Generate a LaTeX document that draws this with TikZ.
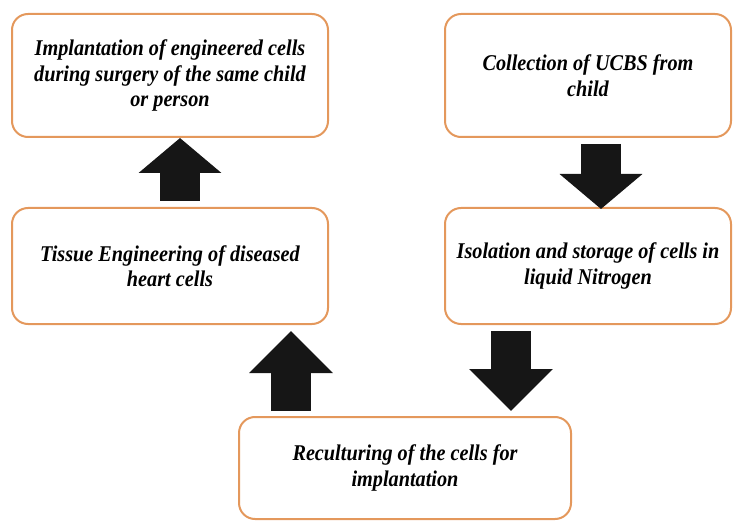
\documentclass[tikz,border=0pt]{standalone}
\usepackage{fontspec}
\setmainfont{Liberation Serif}
\newfontfamily\boxfont{Liberation Serif}[FakeStretch=0.9]
\usepackage{xcolor}
\usetikzlibrary{arrows.meta}
\usetikzlibrary{calc}
\definecolor{boxorange}{RGB}{228,152,92}
\definecolor{arrowblack}{RGB}{22,22,22}
\tikzset{
stepbox/.style={draw=boxorange,line width=2pt,rounded corners=16pt,fill=white,
align=center,inner sep=0pt,font=\boxfont\fontsize{22.5}{25.5}\selectfont\bfseries\itshape},
bigarrow/.style={draw=arrowblack,line width=40pt,-{Triangle[length=#1,width=81pt]}}
}
\begin{document}
\begin{tikzpicture}[x=1pt,y=1pt]

\useasboundingbox (0,0) rectangle (733,-521);

\node[stepbox,minimum width=316pt,minimum height=123pt] (implant) at (170,-75.5)
{Implantation of engineered cells\\during surgery of the same child\\or person};
\node[stepbox,minimum width=286pt,minimum height=123pt] (collect) at (588,-75.5)
{Collection of UCBS from\\child};
\node[stepbox,minimum width=316pt,minimum height=116pt] (tissue) at (170,-266)
{Tissue Engineering of diseased\\heart cells};
\node[stepbox,minimum width=286pt,minimum height=116pt] (isolate) at (588,-266)
{Isolation and storage of cells in\\liquid Nitrogen};
\node[stepbox,minimum width=332pt,minimum height=102pt] (reculture) at (405,-468)
{Reculturing of the cells for\\implantation};

\coordinate (up1) at ([xshift=10pt,yshift=6pt]tissue.north);
\coordinate (down1) at ([xshift=13pt,yshift=-6pt]collect.south);
\coordinate (up2) at ([xshift=-114pt,yshift=5pt]reculture.north);
\coordinate (down2) at ([xshift=-77pt,yshift=-6pt]isolate.south);

\draw[bigarrow=35pt] (up1) -- (up1 |- implant.south);
\draw[bigarrow=35pt] (down1) -- ($(down1 |- isolate.north)+(0,-2)$);
\draw[bigarrow=42pt] (up2) -- ($(up2 |- tissue.south)+(0,-6)$);
\draw[bigarrow=42pt] (down2) -- ($(down2 |- reculture.north)+(0,5)$);

\end{tikzpicture}
\end{document}
